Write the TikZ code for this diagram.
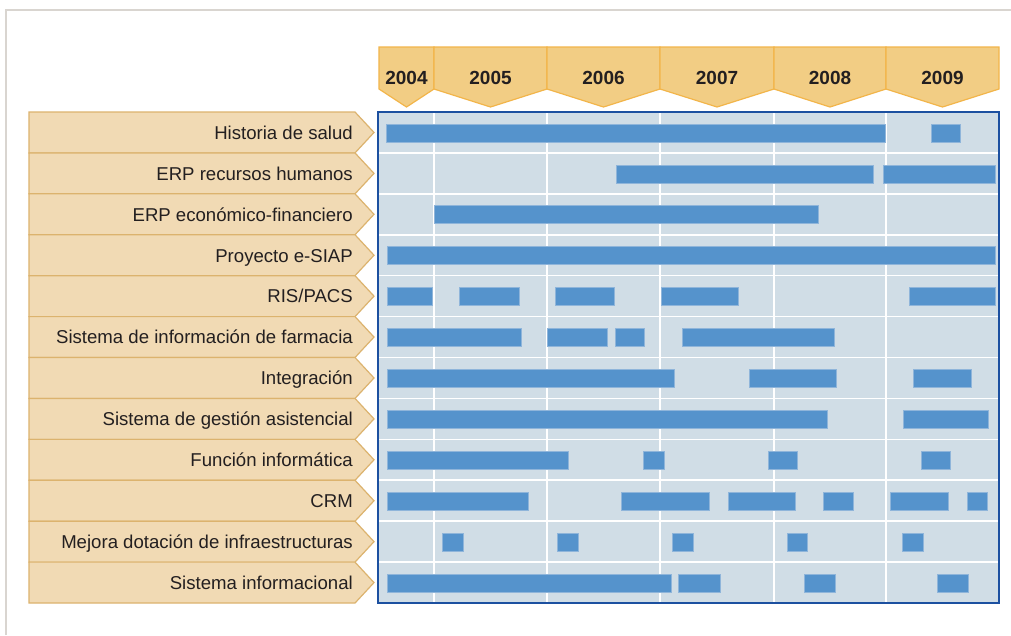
\documentclass[tikz,border=0pt]{standalone}
\usepackage{fontspec}
\setmainfont{Liberation Sans}
\definecolor{framec}{HTML}{D9D5D0}
\definecolor{hdrfill}{HTML}{F2CD84}
\definecolor{hdrline}{HTML}{F2B54A}
\definecolor{labfill}{HTML}{F1DAB4}
\definecolor{labline}{HTML}{DCB36E}
\definecolor{gridbg}{HTML}{D0DDE6}
\definecolor{boxline}{HTML}{1C50A0}
\definecolor{barfill}{HTML}{5593CC}
\definecolor{barline}{HTML}{8FB5DA}
\definecolor{txt}{HTML}{231F20}
\begin{document}
\begin{tikzpicture}[x=1pt,y=-1pt,
  hdrshape/.style={fill=hdrfill,draw=hdrline,line width=1.2pt,line join=miter},
  hdrtext/.style={anchor=base,inner sep=0pt,text=txt,font=\bfseries\fontsize{19}{23}\selectfont},
  labshape/.style={fill=labfill,draw=labline,line width=1.2pt},
  labtext/.style={anchor=base east,inner sep=0pt,text=txt,font=\fontsize{18.6}{22}\selectfont},
  gridln/.style={draw=white,line width=1.6pt},
  barbox/.style={fill=barfill,draw=barline,line width=0.8pt},
  outerbox/.style={draw=boxline,line width=2pt}]
\useasboundingbox (0,0) rectangle (1011,635);
\fill[white] (0,0) rectangle (1011,635);
\draw[framec,line width=1.5pt] (6,635) -- (6,10) -- (1011,10);
% year headers
\foreach \yr/\l/\r in {2004/379/434,2005/434/547,2006/547/660,2007/660/774,2008/774/886,2009/886/999}{
  \draw[hdrshape] (\l,47) -- (\r,47) -- (\r,89) -- ({(\l+\r)/2},107) -- (\l,89) -- cycle;
  \node[hdrtext] (y\yr) at ({(\l+\r)/2},84) {\yr};
}
% row labels
\foreach \i/\t in {1/{Historia de salud},2/{ERP recursos humanos},3/{ERP económico-financiero},4/{Proyecto e-SIAP},5/{RIS/PACS},6/{Sistema de información de farmacia},7/{Integración},8/{Sistema de gestión asistencial},9/{Función informática},10/{CRM},11/{Mejora dotación de infraestructuras},12/{Sistema informacional}}{
  \pgfmathsetmacro\tp{112+(\i-1)*40.92}
  \draw[labshape] (29,\tp) -- (355,\tp) -- (374,\tp+20.46) -- (355,\tp+40.92) -- (29,\tp+40.92) -- cycle;
  \node[labtext] (lab\i) at (353,\tp+27.3) {\t};
}
% chart background and grid
\fill[gridbg] (378,112) rectangle (999,603);
\foreach \gx in {434,547,660,774,886}{
  \draw[gridln] (\gx,112) -- (\gx,603);
}
\foreach \k in {1,...,11}{
  \pgfmathsetmacro\gy{112+\k*40.92}
  \draw[gridln] (378,\gy) -- (999,\gy);
}
% bars
\foreach \i/\segs in {
  1/{386/885,931/960},
  2/{616/873,883/995},
  3/{434/818},
  4/{387/995},
  5/{387/432,459/519,555/614,661/738,909/995},
  6/{387/521,547/607,615/644,682/834},
  7/{387/674,749/836,913/971},
  8/{387/827,903/988},
  9/{387/568,643/664,768/797,921/950},
  10/{387/528,621/709,728/795,823/853,890/948,967/987},
  11/{442/463,557/578,672/693,787/807,902/923},
  12/{387/671,678/720,804/835,937/968}}{
  \pgfmathsetmacro\tp{112+(\i-1)*40.92}
  \foreach \a/\b in \segs{
    \draw[barbox] (\a,\tp+12) rectangle (\b,\tp+30);
  }
}
\draw[outerbox] (378,112) rectangle (999,603);
\end{tikzpicture}
\end{document}
